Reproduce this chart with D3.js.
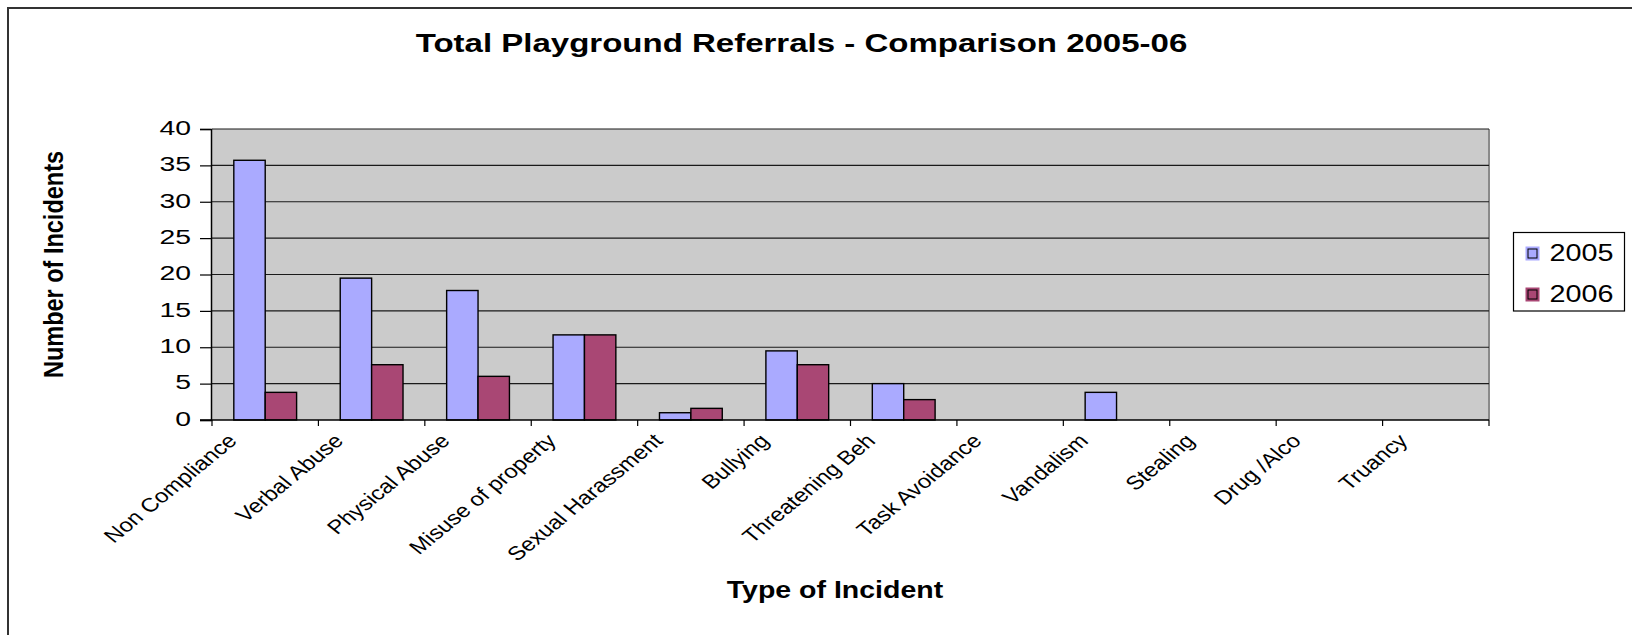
<!DOCTYPE html>
<html>
<head>
<meta charset="utf-8">
<script src="https://cdn.jsdelivr.net/npm/d3@7/dist/d3.min.js"></script>
<style>
  html, body { margin: 0; padding: 0; background: #ffffff; }
  svg { display: block; }
  text { font-family: "Liberation Sans", Arial, sans-serif; fill: #000; }
</style>
</head>
<body>
<svg id="chart" width="1632" height="635"></svg>
<script>
// Incident categories and yearly counts
const categories = [
  "Non Compliance", "Verbal Abuse", "Physical Abuse", "Misuse of property",
  "Sexual Harassment", "Bullying", "Threatening Beh", "Task Avoidance",
  "Vandalism", "Stealing", "Drug /Alco", "Truancy"
];
const seriesNames = ["2005", "2006"];
const values2005 = [35.7, 19.5, 17.8, 11.7, 1.0, 9.5, 5.0, 0, 3.8, 0, 0, 0];
const values2006 = [3.8, 7.6, 6.0, 11.7, 1.6, 7.6, 2.8, 0, 0, 0, 0, 0];
const yTicks = [0, 5, 10, 15, 20, 25, 30, 35, 40];
const seriesColors = ["#aaaaff", "#a94774"];

const rows = categories.map((c, i) => ({
  category: c,
  values: [
    { key: seriesNames[0], value: values2005[i] },
    { key: seriesNames[1], value: values2006[i] }
  ]
}));

const svg = d3.select("#chart");
const plot = { left: 212, right: 1489, top: 129, bottom: 420 };

// Outer chart frame (only top/left edges fall inside the page)
svg.append("rect")
  .attr("x", 8).attr("y", 8)
  .attr("width", 1700).attr("height", 700)
  .attr("fill", "none").attr("stroke", "#333").attr("stroke-width", 2);

const x0 = d3.scaleBand()
  .domain(categories)
  .range([plot.left, plot.right])
  .paddingInner(0.41)
  .paddingOuter(0.205);
const x1 = d3.scaleBand()
  .domain(seriesNames)
  .range([0, x0.bandwidth()]);
const y = d3.scaleLinear().domain([0, 40]).range([plot.bottom, plot.top]);
const color = d3.scaleOrdinal().domain(seriesNames).range(seriesColors);

// Plot area background
svg.append("rect")
  .attr("x", plot.left).attr("y", plot.top)
  .attr("width", plot.right - plot.left).attr("height", plot.bottom - plot.top)
  .attr("fill", "#cbcbcb");
svg.append("line")
  .attr("x1", plot.right).attr("x2", plot.right)
  .attr("y1", plot.top).attr("y2", plot.bottom)
  .attr("stroke", "#8a8a8a").attr("stroke-width", 2);

// Horizontal gridlines
svg.append("g").selectAll("line")
  .data(yTicks.filter(d => d > 0))
  .join("line")
  .attr("x1", plot.left).attr("x2", plot.right)
  .attr("y1", d => y(d)).attr("y2", d => y(d))
  .attr("stroke", "#1a1a1a").attr("stroke-width", 1.2);

// Y axis
const yAxis = svg.append("g")
  .attr("transform", `translate(${plot.left - 1},0)`)
  .call(d3.axisLeft(y).tickValues(yTicks).tickSize(11).tickPadding(0).tickFormat(d3.format("d")));
yAxis.select(".domain").attr("stroke", "#000").attr("stroke-width", 1.5);
yAxis.selectAll(".tick line").attr("stroke", "#000").attr("stroke-width", 1.2);
yAxis.selectAll(".tick text").remove();
yAxis.selectAll(".tick").append("text")
  .attr("transform", "translate(-20,-2) scale(1.35,1)")
  .attr("dy", "0.35em")
  .attr("text-anchor", "end")
  .style("font-size", "21px")
  .text(d => d3.format("d")(d));

// Bars
const groups = svg.append("g").selectAll("g")
  .data(rows)
  .join("g")
  .attr("transform", d => `translate(${x0(d.category)},0)`);
groups.selectAll("rect")
  .data(d => d.values)
  .join("rect")
  .attr("x", d => x1(d.key))
  .attr("y", d => y(d.value))
  .attr("width", x1.bandwidth())
  .attr("height", d => y(0) - y(d.value))
  .attr("fill", d => color(d.key))
  .attr("stroke", "#000")
  .attr("stroke-width", 1.4);

// X axis line and boundary ticks
const step = x0.step();
const boundaries = d3.range(categories.length + 1).map(i => plot.left + i * step);
svg.append("line")
  .attr("x1", plot.left - 12).attr("x2", plot.right)
  .attr("y1", plot.bottom).attr("y2", plot.bottom)
  .attr("stroke", "#000").attr("stroke-width", 1.5);
svg.append("g").selectAll("line")
  .data(boundaries)
  .join("line")
  .attr("x1", d => d).attr("x2", d => d)
  .attr("y1", plot.bottom).attr("y2", plot.bottom + 6)
  .attr("stroke", "#000").attr("stroke-width", 1.2);

// Rotated category labels
svg.append("g").selectAll("text")
  .data(categories)
  .join("text")
  .attr("transform", d => `translate(${x0(d) + x0.bandwidth() / 2 - 27},442) scale(1.22,1) rotate(-45)`)
  .attr("text-anchor", "end")
  .style("font-size", "19.5px")
  .text(d => d);

// Titles
svg.append("text")
  .attr("transform", "translate(801.5,52) scale(1.27,1)")
  .attr("text-anchor", "middle")
  .style("font-size", "26px").style("font-weight", "bold")
  .text("Total Playground Referrals - Comparison 2005-06");
svg.append("text")
  .attr("transform", "translate(835,598) scale(1.24,1)")
  .attr("text-anchor", "middle")
  .style("font-size", "23px").style("font-weight", "bold")
  .text("Type of Incident");
svg.append("text")
  .attr("transform", "translate(63,264.5) scale(1.19,1) rotate(-90)")
  .attr("text-anchor", "middle")
  .style("font-size", "23.5px").style("font-weight", "bold")
  .text("Number of Incidents");

// Legend
const legend = svg.append("g").attr("transform", "translate(1513.5,232.5)");
legend.append("rect")
  .attr("width", 111).attr("height", 78.5)
  .attr("fill", "#fff").attr("stroke", "#000").attr("stroke-width", 1.2);
const items = legend.selectAll("g.item")
  .data(seriesNames)
  .join("g")
  .attr("class", "item")
  .attr("transform", (d, i) => `translate(0,${21 + i * 41})`);
items.append("rect")
  .attr("x", 12).attr("y", -7).attr("width", 14).attr("height", 14)
  .attr("fill", d => color(d));
items.append("rect")
  .attr("x", 14.5).attr("y", -4.5).attr("width", 9).attr("height", 9)
  .attr("fill", d => color(d)).attr("stroke", "#000").attr("stroke-width", 1);
items.append("text")
  .attr("transform", "translate(36,-1) scale(1.25,1)")
  .attr("dy", "0.35em")
  .style("font-size", "23px")
  .text(d => d);
</script>
</body>
</html>
